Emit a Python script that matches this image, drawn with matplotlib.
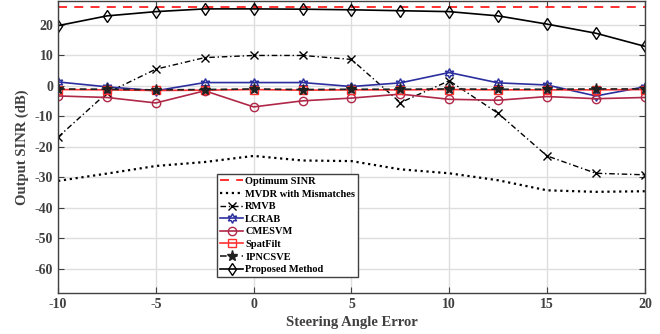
import matplotlib
matplotlib.use("Agg")
import matplotlib.pyplot as plt

plt.rcParams['font.family'] = ['Liberation Serif', 'DejaVu Serif']
plt.rcParams['font.weight'] = 'bold'
plt.rcParams['axes.unicode_minus'] = False

# steering angle error (deg)
angles = [-10, -7.5, -5, -2.5, 0, 2.5, 5, 7.5, 10, 12.5, 15, 17.5, 20]

optimum = [25.9] * len(angles)
mvdr = [-31.2, -28.8, -26.3, -25.0, -23.0, -24.5, -24.7, -27.4, -28.7, -31.0, -34.3, -34.8, -34.6]
rmvb = [-16.8, -2.3, 5.5, 9.3, 10.0, 10.0, 8.7, -5.5, 1.7, -9.0, -23.0, -28.7, -29.2]
lcrab = [1.3, -0.3, -1.6, 1.1, 1.1, 1.1, -0.2, 1.0, 4.4, 1.0, 0.3, -3.3, -0.3]
cmesvm = [-3.3, -3.8, -5.6, -1.6, -6.9, -4.9, -4.0, -2.7, -4.4, -4.7, -3.5, -4.2, -3.8]
spatfilt = [-1.2, -1.3, -1.5, -1.4, -1.2, -1.4, -1.3, -1.3, -1.2, -1.3, -1.3, -1.3, -1.2]
ipncsve = [-1.0, -1.1, -1.3, -1.2, -1.0, -1.2, -1.1, -1.1, -1.0, -1.1, -1.1, -1.0, -1.0]
proposed = [19.8, 23.0, 24.4, 25.3, 25.3, 25.2, 25.0, 24.7, 24.4, 23.0, 20.3, 17.3, 13.0]

fig = plt.figure(figsize=(6.6, 3.34), dpi=100)
ax = fig.add_axes([0.088, 0.123, 0.889, 0.875])

ax.plot(angles, optimum, color='#ff2020', lw=1.3, dashes=(5, 4), label='Optimum SINR')
ax.plot(angles, mvdr, ':', color='black', lw=1.6, label='MVDR with Mismatches')
ax.plot(angles, rmvb, color='black', lw=1.0, dashes=(4, 2, 1, 2), marker='x', ms=6,
        label='RMVB')
ax.plot(angles, lcrab, '-', color='#2b2f9e', lw=1.2, marker=(6, 1, 0), ms=7,
        mfc='none', label='LCRAB')
ax.plot(angles, cmesvm, '-', color='#b02848', lw=1.2, marker='o', ms=6,
        mfc='none', label='CMESVM')
ax.plot(angles, spatfilt, '-', color='#ff3030', lw=1.2, marker='s', ms=6,
        mfc='none', label='SpatFilt')
ax.plot(angles, ipncsve, color='#202020', lw=1.2, dashes=(4, 2.5), marker='*', ms=8,
        label='IPNCSVE')
ax.plot(angles, proposed, '-', color='black', lw=1.2, marker='d', ms=6,
        mfc='none', label='Proposed Method')

ax.set_xlim(-10, 20)
ax.set_ylim(-68, 28)
ax.set_xticks([-10, -5, 0, 5, 10, 15, 20])
ax.set_yticks([-60, -50, -40, -30, -20, -10, 0, 10, 20])
ax.grid(True, color='#dedede', lw=1.0)
ax.set_axisbelow(True)
ax.tick_params(direction='in', top=True, right=True, length=4,
               labelsize=10, colors='#404040')
for s in ax.spines.values():
    s.set_color('#404040')
    s.set_linewidth(1.0)

ax.set_xlabel('Steering Angle Error', fontsize=10.5, fontweight='bold', color='#404040')
ax.set_ylabel('Output SINR (dB)', fontsize=10.5, fontweight='bold', color='#404040')

leg = ax.legend(loc='lower left', bbox_to_anchor=(0.262, 0.035), fontsize=7.5,
                handlelength=2.2, handletextpad=0.2, labelspacing=0.32,
                borderpad=0.3, fancybox=False, framealpha=1, edgecolor='#404040')
leg.get_frame().set_linewidth(1.0)

fig.savefig('out.png', dpi=100)
